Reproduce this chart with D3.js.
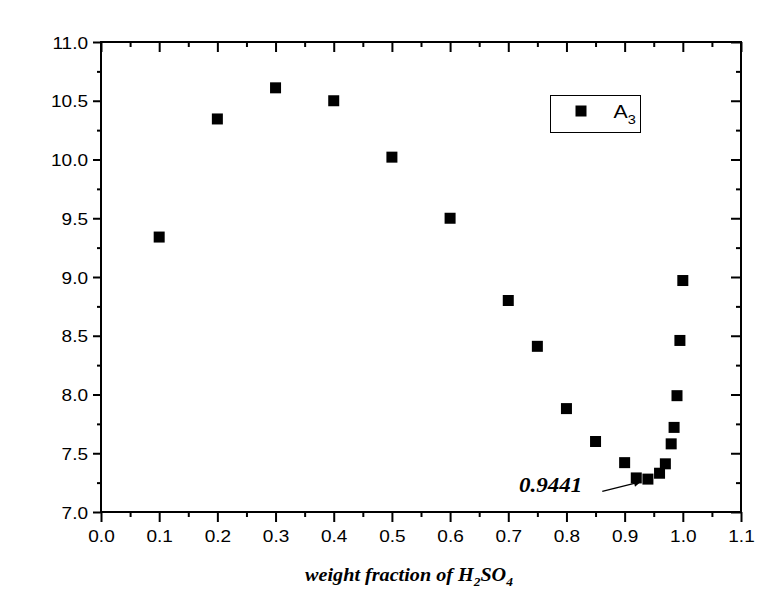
<!DOCTYPE html>
<html>
<head>
<meta charset="utf-8">
<script src="https://cdn.jsdelivr.net/npm/d3@7"></script>
<style>
body { margin:0; background:#fff; }
svg { display:block; }
</style>
</head>
<body>
<svg id="chart"></svg>
<script>
// weight fraction of H2SO4
var fraction = [0.1, 0.2, 0.3, 0.4, 0.5, 0.6, 0.7, 0.75, 0.8, 0.85, 0.9, 0.92, 0.94, 0.96, 0.97, 0.98, 0.985, 0.99, 0.995, 1.0];
// A3 values
var a3 = [9.34, 10.345, 10.61, 10.50, 10.02, 9.50, 8.80, 8.41, 7.88, 7.60, 7.42, 7.29, 7.28, 7.33, 7.41, 7.58, 7.72, 7.99, 8.46, 8.97];
var xTicks = [0.0, 0.1, 0.2, 0.3, 0.4, 0.5, 0.6, 0.7, 0.8, 0.9, 1.0, 1.1];
var yTicks = [7.0, 7.5, 8.0, 8.5, 9.0, 9.5, 10.0, 10.5, 11.0];
var annotation = {label:"0.9441", x:0.92, y:7.29};

var screen = {width:767, height:598};
var plot = {left:101, right:741, top:42, bottom:512};
var stretch = 1.12; // the labels look a little wide in the original

var svg = d3.select("#chart")
    .attr("width", screen.width)
    .attr("height", screen.height);

var x = d3.scaleLinear()
    .domain([0, 1.1])
    .range([plot.left, plot.right]);
var y = d3.scaleLinear()
    .domain([7, 11])
    .range([plot.bottom, plot.top]);

var xMinor = d3.range(0.05, 1.1, 0.1);
var yMinor = d3.range(7.25, 11, 0.5);

var sans = "'Liberation Sans', Arial, sans-serif";
var serif = "'Liberation Serif', 'Times New Roman', serif";

var styleAxis = function(g)
{
    g.select(".domain").remove();
    g.selectAll("line").attr("stroke", "#000").attr("stroke-width", 2);
    g.selectAll("text").attr("fill", "#000").style("font-family", sans).style("font-size", "17px");
};

// minor ticks first
svg.append("g")
    .attr("transform", "translate(0," + plot.bottom + ")")
    .call(d3.axisBottom(x).tickValues(xMinor).tickSize(5).tickFormat(""))
    .call(styleAxis);
svg.append("g")
    .attr("transform", "translate(0," + plot.top + ")")
    .call(d3.axisBottom(x).tickValues(xMinor).tickSize(5).tickFormat(""))
    .call(styleAxis);
svg.append("g")
    .attr("transform", "translate(" + plot.left + ",0)")
    .call(d3.axisLeft(y).tickValues(yMinor).tickSize(4).tickFormat(""))
    .call(styleAxis);
svg.append("g")
    .attr("transform", "translate(" + plot.right + ",0)")
    .call(d3.axisLeft(y).tickValues(yMinor).tickSize(5).tickFormat(""))
    .call(styleAxis);

// major ticks
var bottomAxis = svg.append("g")
    .attr("transform", "translate(0," + plot.bottom + ")")
    .call(d3.axisBottom(x).tickValues(xTicks).tickSize(10).tickFormat(d3.format(".1f")))
    .call(styleAxis);
bottomAxis.selectAll("text")
    .attr("y", 30)
    .attr("dy", null)
    .attr("transform", "scale(" + stretch + ",1)");

svg.append("g")
    .attr("transform", "translate(0," + plot.top + ")")
    .call(d3.axisBottom(x).tickValues(xTicks).tickSize(10).tickFormat(""))
    .call(styleAxis);

var leftAxis = svg.append("g")
    .attr("transform", "translate(" + plot.left + ",0)")
    .call(d3.axisLeft(y).tickValues(yTicks).tickSize(8).tickFormat(d3.format(".1f")))
    .call(styleAxis);
leftAxis.selectAll("text")
    .attr("x", -13 / stretch)
    .attr("dy", "0.36em")
    .attr("transform", "scale(" + stretch + ",1)");

svg.append("g")
    .attr("transform", "translate(" + plot.right + ",0)")
    .call(d3.axisLeft(y).tickValues(yTicks).tickSize(10).tickFormat(""))
    .call(styleAxis);

// frame
svg.append("rect")
    .attr("x", plot.left)
    .attr("y", plot.top)
    .attr("width", plot.right - plot.left)
    .attr("height", plot.bottom - plot.top)
    .attr("fill", "none")
    .attr("stroke", "#000")
    .attr("stroke-width", 2);

// points
var size = 11;
svg.append("g")
    .selectAll("rect")
    .data(fraction)
    .enter()
    .append("rect")
    .attr("x", function(d) { return x(d) - size/2; })
    .attr("y", function(d, i) { return y(a3[i]) - size/2; })
    .attr("width", size)
    .attr("height", size)
    .attr("fill", "#000");

// annotation with arrow
svg.append("defs")
    .append("marker")
    .attr("id", "head")
    .attr("viewBox", "0 0 10 10")
    .attr("refX", 9)
    .attr("refY", 5)
    .attr("markerWidth", 10)
    .attr("markerHeight", 7)
    .attr("markerUnits", "userSpaceOnUse")
    .attr("orient", "auto")
    .append("path")
    .attr("d", "M0,0L10,5L0,10z")
    .attr("fill", "#000");

var ax = x(annotation.x), ay = y(annotation.y);
svg.append("line")
    .attr("x1", ax - 34)
    .attr("y1", ay + 13.5)
    .attr("x2", ax + 4)
    .attr("y2", ay + 4)
    .attr("stroke", "#000")
    .attr("stroke-width", 1.3)
    .attr("marker-end", "url(#head)");

svg.append("text")
    .attr("transform", "translate(" + (ax - 54) + "," + (ay + 14.5) + ") scale(1.15,1)")
    .attr("text-anchor", "end")
    .style("font-family", serif)
    .style("font-size", "20px")
    .style("font-weight", "bold")
    .style("font-style", "italic")
    .text(annotation.label);

// legend
var legend = svg.append("g").attr("transform", "translate(550.5,95.5)");
legend.append("rect")
    .attr("width", 90)
    .attr("height", 37)
    .attr("fill", "none")
    .attr("stroke", "#000")
    .attr("stroke-width", 1);
legend.append("rect")
    .attr("x", 30.5 - size/2)
    .attr("y", 15.5 - size/2)
    .attr("width", size)
    .attr("height", size)
    .attr("fill", "#000");
var lt = legend.append("text")
    .attr("transform", "translate(63,22) scale(" + stretch + ",1)")
    .style("font-family", sans)
    .style("font-size", "19px");
lt.append("tspan").text("A");
lt.append("tspan").attr("dy", 6).style("font-size", "13px").text("3");

// x axis title
var title = svg.append("text")
    .attr("transform", "translate(" + ((plot.left + plot.right) / 2 - 12) + ",581) scale(1.12,1)")
    .attr("text-anchor", "middle")
    .style("font-family", serif)
    .style("font-size", "18px")
    .style("font-weight", "bold")
    .style("font-style", "italic");
title.append("tspan").text("weight fraction of H");
title.append("tspan").attr("dy", 5).style("font-size", "12px").text("2");
title.append("tspan").attr("dy", -5).text("SO");
title.append("tspan").attr("dy", 5).style("font-size", "12px").text("4");
</script>
</body>
</html>
